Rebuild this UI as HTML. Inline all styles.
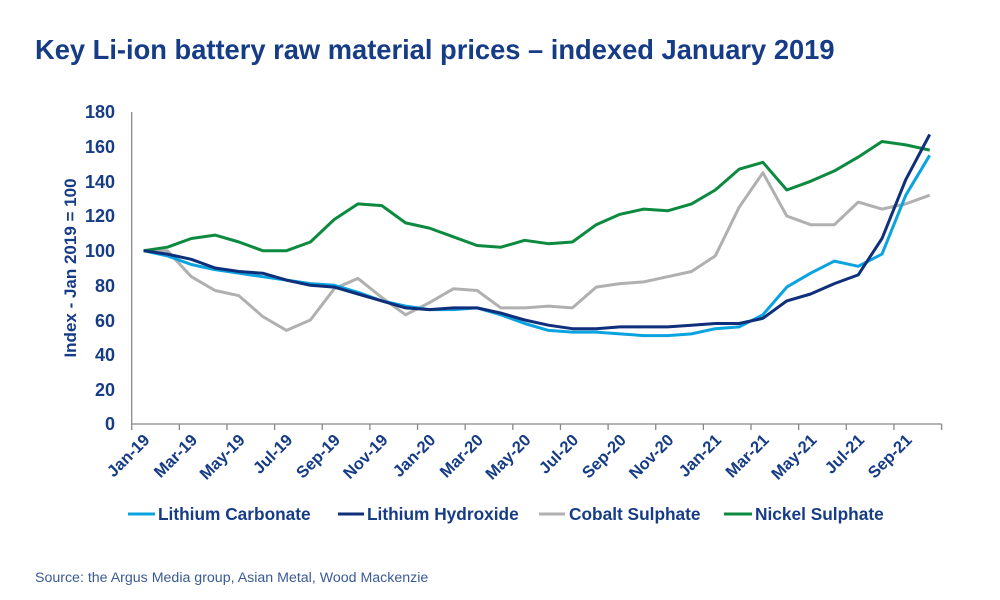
<!DOCTYPE html>
<html><head><meta charset="utf-8"><style>
body{margin:0;background:#fff;}
svg{display:block;font-family:"Liberation Sans",Arial,sans-serif;}
</style></head><body>
<svg width="1000" height="600" viewBox="0 0 1000 600" xmlns="http://www.w3.org/2000/svg">
<rect width="1000" height="600" fill="#fff"/>
<text x="35" y="59" font-size="27.3" fill="#163c86" font-weight="bold">Key Li-ion battery raw material prices – indexed January 2019</text>
<g fill="#163c86" font-size="18" text-anchor="end" font-weight="bold">
<text x="115" y="430">0</text><text x="115" y="396">20</text><text x="115" y="361">40</text>
<text x="115" y="327">60</text><text x="115" y="292">80</text><text x="115" y="257">100</text>
<text x="115" y="222">120</text><text x="115" y="188">140</text><text x="115" y="153">160</text><text x="115" y="118">180</text>
</g>
<text transform="translate(76,268) rotate(-90)" text-anchor="middle" font-size="17" fill="#163c86" font-weight="bold">Index - Jan 2019 = 100</text>
<line x1="131.7" y1="112" x2="131.7" y2="424" stroke="#888" stroke-width="1.3"/>
<line x1="131.7" y1="424" x2="941.7" y2="424" stroke="#888" stroke-width="1.3"/>
<g id="ticks" stroke="#888" stroke-width="1.3"></g>
<g id="labels" fill="#163c86" font-size="16.5" text-anchor="end" font-weight="bold"></g>
<g id="series" fill="none" stroke-width="3" stroke-linejoin="round"></g>
<g font-size="17.3" fill="#163c86" font-weight="bold">
<line x1="128" y1="514" x2="155" y2="514" stroke="#0aa3e0" stroke-width="3"/><text x="158" y="520">Lithium Carbonate</text>
<line x1="338" y1="514" x2="364" y2="514" stroke="#0f2f7a" stroke-width="3"/><text x="367" y="520">Lithium Hydroxide</text>
<line x1="539" y1="514" x2="565" y2="514" stroke="#b0b0b0" stroke-width="3"/><text x="569" y="520">Cobalt Sulphate</text>
<line x1="724" y1="514" x2="752" y2="514" stroke="#0c8a3f" stroke-width="3"/><text x="755" y="520">Nickel Sulphate</text>
</g>
<text x="35" y="582" font-size="14.2" fill="#3a5a96">Source: the Argus Media group, Asian Metal, Wood Mackenzie</text>
<script>
var NS="http://www.w3.org/2000/svg";
var x0=131.7,w=23.82,y0=424,k=1.7333;
var months=["Jan","Feb","Mar","Apr","May","Jun","Jul","Aug","Sep","Oct","Nov","Dec"];
var t=document.getElementById("ticks"),l=document.getElementById("labels");
for(var i=0;i<=34;i+=2){var ln=document.createElementNS(NS,"line");var x=x0+i*w;
ln.setAttribute("x1",x);ln.setAttribute("x2",x);ln.setAttribute("y1",424);ln.setAttribute("y2",430);t.appendChild(ln);}
for(var i=0;i<34;i+=2){var cx=x0+(i+0.5)*w;var tx=document.createElementNS(NS,"text");
tx.setAttribute("transform","translate("+(cx+7)+",441) rotate(-45)");
tx.textContent=months[i%12]+"-"+(19+Math.floor(i/12));l.appendChild(tx);}
var data=[
["#b0b0b0",[100,100,85,77,74,62,54,60,78,84,73,63,70,78,77,67,67,68,67,79,81,82,85,88,97,125,145,120,115,115,128,124,127,132]],
["#0c8a3f",[100,102,107,109,105,100,100,105,118,127,126,116,113,108,103,102,106,104,105,115,121,124,123,127,135,147,151,135,140,146,154,163,161,158]],
["#0aa3e0",[100,97,92,89,87,85,83,81,80,76,71,68,66,66,67,63,58,54,53,53,52,51,51,52,55,56,63,79,87,94,91,98,132,155]],
["#0f2f7a",[100,98,95,90,88,87,83,80,79,75,71,67,66,67,67,64,60,57,55,55,56,56,56,57,58,58,61,71,75,81,86,107,141,167]]];
var s=document.getElementById("series");
data.forEach(function(d){var p=d[1].map(function(v,i){return (x0+(i+0.5)*w).toFixed(1)+","+(y0-v*k).toFixed(1);}).join(" ");
var pl=document.createElementNS(NS,"polyline");pl.setAttribute("points",p);pl.setAttribute("stroke",d[0]);s.appendChild(pl);});
</script>
</svg>
</body></html>
